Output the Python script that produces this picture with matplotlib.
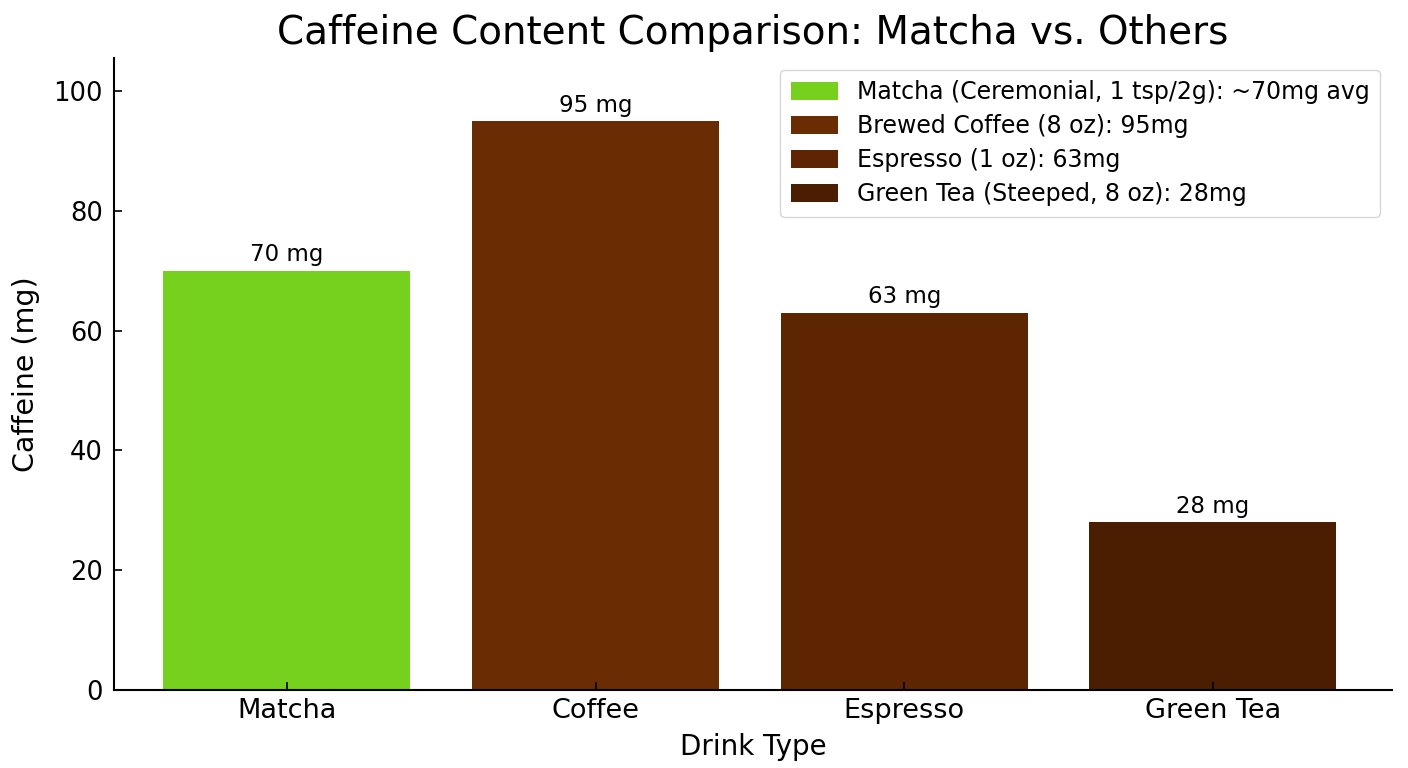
import matplotlib
matplotlib.use("Agg")
import matplotlib.pyplot as plt

# Data
drinks = ["Matcha", "Coffee", "Espresso", "Green Tea"]
caffeine_mg = [70, 95, 63, 28]
legend_labels = [
    "Matcha (Ceremonial, 1 tsp/2g): ~70mg avg",
    "Brewed Coffee (8 oz): 95mg",
    "Espresso (1 oz): 63mg",
    "Green Tea (Steeped, 8 oz): 28mg",
]
bar_colors = ["#76D11E", "#6A2C02", "#5E2502", "#4B1D01"]

fig = plt.figure(figsize=(14.08, 7.68), dpi=100)
ax = fig.add_axes([0.081, 0.1016, 0.9076, 0.823])

bars = ax.bar(drinks, caffeine_mg, width=0.8, color=bar_colors, label=legend_labels)

# value labels on top of each bar
for rect, val in zip(bars, caffeine_mg):
    ax.annotate(f"{val} mg", (rect.get_x() + rect.get_width() / 2, val),
                xytext=(0, 3), textcoords="offset points",
                ha="center", va="bottom", fontsize=16.5)

ax.set_ylim(0, 105.5)
ax.set_xlim(-0.56, 3.58)
ax.set_yticks([0, 20, 40, 60, 80, 100])

ax.spines["top"].set_visible(False)
ax.spines["right"].set_visible(False)
ax.spines["left"].set_linewidth(1.5)
ax.spines["bottom"].set_linewidth(1.5)
ax.tick_params(direction="in", length=6, width=1.2)
ax.tick_params(axis="y", labelsize=18.5, pad=8)
ax.tick_params(axis="x", labelsize=19.5, pad=6)

ax.set_title("Caffeine Content Comparison: Matcha vs. Others", fontsize=28, pad=10)
ax.set_xlabel("Drink Type", fontsize=20, labelpad=6)
ax.set_ylabel("Caffeine (mg)", fontsize=20.5, labelpad=10)

ax.legend(loc="upper right", fontsize=17, frameon=True, fancybox=True,
          borderpad=0.45, handlelength=2.0, handleheight=0.8, labelspacing=0.42)

fig.savefig("out.png", dpi=100)
